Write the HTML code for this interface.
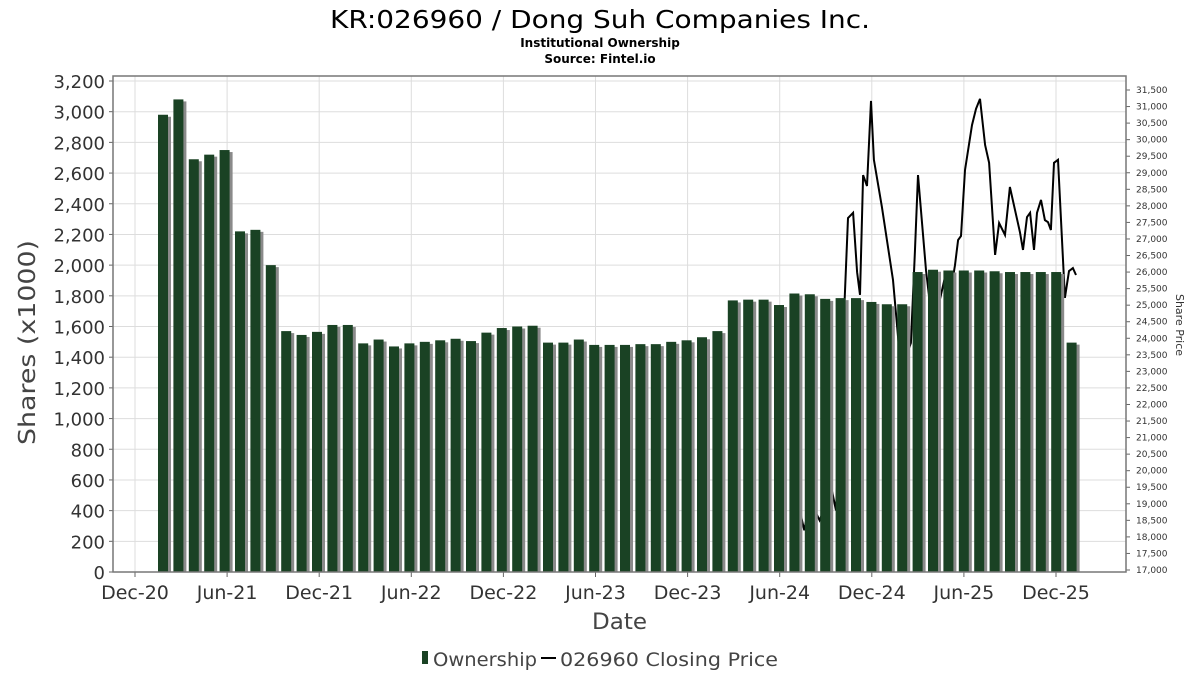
<!DOCTYPE html>
<html><head><meta charset="utf-8"><style>
body{margin:0;background:#fff;font-family:"Liberation Sans","DejaVu Sans",sans-serif}
svg text{font-family:"DejaVu Sans","Liberation Sans",sans-serif}
</style></head><body>
<svg id="c" width="1200" height="675" xmlns="http://www.w3.org/2000/svg">
<text x="330" y="28" textLength="540" lengthAdjust="spacingAndGlyphs" font-size="25" fill="#000">KR:026960 / Dong Suh Companies Inc.</text>
<text x="600" y="47" text-anchor="middle" font-size="12" font-weight="bold">Institutional Ownership</text>
<text x="600" y="63" text-anchor="middle" font-size="12" font-weight="bold">Source: Fintel.io</text>
<g id="grid"></g><g id="line"></g><g id="bars"></g><g id="axes"></g>
<text x="592" y="629" textLength="55" lengthAdjust="spacingAndGlyphs" font-size="22" fill="#444">Date</text>
<text transform="translate(35,445) rotate(-90)" textLength="205" lengthAdjust="spacingAndGlyphs" font-size="23" fill="#444">Shares (x1000)</text>
<text transform="translate(1176,325) rotate(90)" text-anchor="middle" font-size="11" fill="#333">Share Price</text>
<g>
<rect x="422" y="651" width="6" height="13" fill="#1a4224"/>
<text x="433" y="666" textLength="104" lengthAdjust="spacingAndGlyphs" font-size="19" fill="#444">Ownership</text>
<line x1="541" y1="658" x2="556" y2="658" stroke="#000" stroke-width="2"/>
<text x="560" y="666" textLength="218" lengthAdjust="spacingAndGlyphs" font-size="19" fill="#444">026960 Closing Price</text>
</g>
</svg>
<script>
const shares=[2980,3080,2690,2720,2750,2220,2230,2000,1570,1545,1565,1610,1610,1490,1515,1470,1490,1500,1510,1520,1505,1560,1590,1600,1605,1495,1495,1515,1480,1480,1480,1485,1485,1500,1510,1530,1570,1770,1775,1775,1740,1815,1810,1780,1785,1785,1760,1745,1745,1955,1970,1965,1965,1965,1960,1955,1955,1955,1955,1495];
const priceMonths=[43.3,43.6,43.97,44.6,45.4,45.67,46.45,46.78,47.04,47.23,47.43,47.69,47.95,48.14,48.66,49.38,49.9,50.55,50.81,51.01,51.53,51.99,52.84,53.16,53.42,53.62,53.81,54.07,54.53,54.79,55.05,55.38,55.64,56.03,56.29,56.68,57.0,57.65,57.85,58.11,58.31,58.57,58.76,59.02,59.28,59.48,59.67,59.87,60.13,60.58,60.85,61.1,61.3];
const prices=[18800,18200,19100,18500,19400,18800,27630,27790,26000,25310,28930,28600,31170,29390,27970,25760,23040,23860,26610,28930,26060,24250,26000,25460,26210,26970,27090,29080,30440,30930,31230,29840,29300,26520,27480,27120,28570,27210,26670,27660,27790,26670,27790,28180,27570,27510,27270,29300,29390,25220,26030,26120,25910];
const leftTicks=[0,200,400,600,800,1000,1200,1400,1600,1800,2000,2200,2400,2600,2800,3000,3200];
const xTickLabels=["Dec-20","Jun-21","Dec-21","Jun-22","Dec-22","Jun-23","Dec-23","Jun-24","Dec-24","Jun-25","Dec-25"];
const xTickMonths=[0,6,12,18,24,30,36,42,48,54,60];
const NS="http://www.w3.org/2000/svg";
const L=113,R=1126,T=76,B=572;
const yL=v=>B-v*(B-81)/3200;
const yR=p=>570-(p-17000)*(570-90)/14500;
const xM=m=>135+m*15.35;
function mk(tag,attrs,parent){const e=document.createElementNS(NS,tag);for(const k in attrs)e.setAttribute(k,attrs[k]);parent.appendChild(e);return e;}
const grid=document.getElementById('grid'),axes=document.getElementById('axes'),bars=document.getElementById('bars'),line=document.getElementById('line');
mk('rect',{x:L,y:T,width:R-L,height:B-T,fill:'#fff'},grid);
leftTicks.forEach(v=>{
 const g=mk('line',{x1:L,x2:R,y1:yL(v),y2:yL(v),stroke:'#ddd'},grid);
 
 
 const t=mk('text',{x:L-8,y:yL(v)+7,'text-anchor':'end','font-size':18,fill:'#333'},axes);
 t.textContent=v.toLocaleString('en-US');
 
 
 mk('line',{x1:L-4,x2:L,y1:yL(v),y2:yL(v),stroke:'#666'},axes);
});
for(let p=17000;p<=31500;p+=500){
 const t=mk('text',{x:R+10,y:yR(p)+3,'font-size':9,fill:'#333'},axes);
 t.textContent=p.toLocaleString('en-US');
 
 
 mk('line',{x1:R,x2:R+4,y1:yR(p),y2:yR(p),stroke:'#666'},axes);
}
xTickLabels.forEach((lab,i)=>{
 const x=xM(xTickMonths[i]);
 const g=mk('line',{x1:x,x2:x,y1:T,y2:B,stroke:'#ddd'},grid);
 
 
 mk('line',{x1:x,x2:x,y1:B,y2:B+5,stroke:'#666'},axes);
 const t=mk('text',{x:x,y:599,'text-anchor':'middle','font-size':19,fill:'#333'},axes);
 t.textContent=lab;
 
 
});
mk('rect',{x:L,y:T,width:R-L,height:B-T,fill:'none',stroke:'#777','stroke-width':1.5},axes);
const pts=priceMonths.map((m,i)=>xM(m).toFixed(1)+','+yR(prices[i]).toFixed(1)).join(' ');
const pl=mk('polyline',{points:pts,fill:'none',stroke:'#000','stroke-width':2},line);


shares.forEach((v,i)=>{
 const cx=163+i*15.4;
 mk('rect',{x:cx-5+3,y:yL(v)+2,width:10,height:B-yL(v)-2,fill:'#8a8a8a'},bars);
 const r=mk('rect',{x:cx-5,y:yL(v),width:10,height:B-yL(v),fill:'#1a4224'},bars);
 
 
});
</script>
</body></html>
